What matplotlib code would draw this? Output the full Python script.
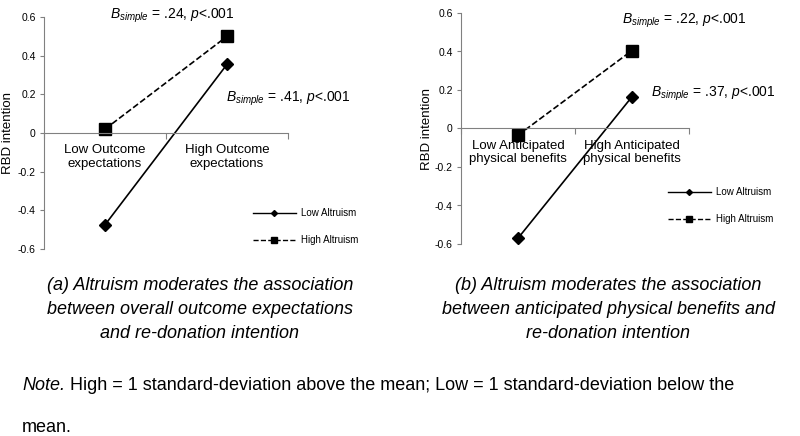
import numpy as np
import matplotlib
matplotlib.use("Agg")
import matplotlib.pyplot as plt
from matplotlib.lines import Line2D

plt.rcParams['font.family'] = ['Liberation Sans', 'DejaVu Sans']
plt.rcParams['mathtext.fontset'] = 'custom'
plt.rcParams['mathtext.rm'] = 'Liberation Sans'
plt.rcParams['mathtext.it'] = 'Liberation Sans:italic'
plt.rcParams['axes.unicode_minus'] = False

# data
series = ['Low Altruism', 'High Altruism']
cats_a = ['Low Outcome\nexpectations', 'High Outcome\nexpectations']
low_alt_a = [-0.475, 0.355]
high_alt_a = [0.02, 0.50]
cats_b = ['Low Anticipated\nphysical benefits', 'High Anticipated\nphysical benefits']
low_alt_b = [-0.57, 0.165]
high_alt_b = [-0.035, 0.405]
yticks = [-0.6, -0.4, -0.2, 0, 0.2, 0.4, 0.6]
ytick_labels = ['-0.6', '-0.4', '-0.2', '0', '0.2', '0.4', '0.6']
ann_a = [r'$B_{simple}$ = .24, $p$<.001', r'$B_{simple}$ = .41, $p$<.001']
ann_b = [r'$B_{simple}$ = .22, $p$<.001', r'$B_{simple}$ = .37, $p$<.001']
captions = ['(a) Altruism moderates the association\nbetween overall outcome expectations\nand re-donation intention',
            '(b) Altruism moderates the association\nbetween anticipated physical benefits and\nre-donation intention']

W, H = 800, 436
fig = plt.figure(figsize=(8, 4.36), dpi=100)
grey = '#808080'


def px(x0, y_top, x1, y_bot):
    return [x0 / W, 1 - y_bot / H, (x1 - x0) / W, (y_bot - y_top) / H]


def panel(rect, cats, low, high, ann, ann_pos, leg_pos):
    ax = fig.add_axes(rect)
    xs = [0.5, 1.5]
    ax.plot(xs, low, '-', color='black', lw=1.2, marker='D', ms=6, label=series[0])
    ax.plot(xs, high, '--', color='black', lw=1.2, marker='s', ms=8, label=series[1])
    ax.set_xlim(0, 2)
    ax.set_ylim(-0.6, 0.6)
    for s in ['top', 'right']:
        ax.spines[s].set_visible(False)
    ax.spines['bottom'].set_position(('data', 0))
    ax.spines['bottom'].set_color(grey)
    ax.spines['left'].set_color(grey)
    ax.set_yticks(yticks)
    ax.set_yticklabels(ytick_labels, fontsize=7.5)
    ax.set_xticks([0, 1, 2])
    ax.set_xticklabels(['', '', ''])
    ax.set_xticks(xs, minor=True)
    ax.set_xticklabels(cats, minor=True, fontsize=9.5)
    ax.tick_params(axis='x', which='major', direction='out', length=4, color=grey)
    ax.tick_params(axis='x', which='minor', length=0, pad=8)
    ax.tick_params(axis='y', direction='out', length=3, color=grey, pad=3)
    ax.set_ylabel('RBD intention', fontsize=9.5)
    for txt, (x, y) in zip(ann, ann_pos):
        fig.text(x / W, 1 - y / H, txt, fontsize=10, ha='left', va='center')
    h1 = Line2D([], [], color='black', lw=1.0, ls='-', marker='D', ms=3)
    h2 = Line2D([], [], color='black', lw=1.0, ls='--', marker='s', ms=4)
    ax.legend([h1, h2], series, loc='upper left', frameon=False, fontsize=7,
              bbox_to_anchor=(leg_pos[0] / W, 1 - leg_pos[1] / H),
              bbox_transform=fig.transFigure, handlelength=4.4,
              handletextpad=0.5, labelspacing=1.75, borderpad=0, borderaxespad=0)
    return ax


axa = panel(px(44, 17, 288, 249), cats_a, low_alt_a, high_alt_a, ann_a,
            [(110, 16), (226, 99)], (253, 208))
axa.yaxis.set_label_coords(-0.123, 0.5)
axb = panel(px(461, 13, 689, 244), cats_b, low_alt_b, high_alt_b, ann_b,
            [(622, 21), (651, 94)], (668, 187))
axb.yaxis.set_label_coords(-0.123, 0.5)

fig.text(200 / W, 1 - 277 / H, captions[0], fontsize=13, style='italic',
         ha='center', va='top', linespacing=1.55)
fig.text(608 / W, 1 - 277 / H, captions[1], fontsize=13, style='italic',
         ha='center', va='top', linespacing=1.55)

ax0 = fig.add_axes([0, 0, 1, 1])
ax0.axis('off')
t1 = ax0.text(22 / W, 1 - 385 / H, 'Note.', fontsize=13, style='italic',
              ha='left', va='center', transform=ax0.transAxes)
ax0.annotate(' High = 1 standard-deviation above the mean; Low = 1 standard-deviation below the',
             xy=(1, 0.5), xycoords=t1, fontsize=13, ha='left', va='center')
ax0.text(22 / W, 1 - 427 / H, 'mean.', fontsize=13, ha='left', va='center',
         transform=ax0.transAxes)

fig.savefig('out.png', dpi=100)
